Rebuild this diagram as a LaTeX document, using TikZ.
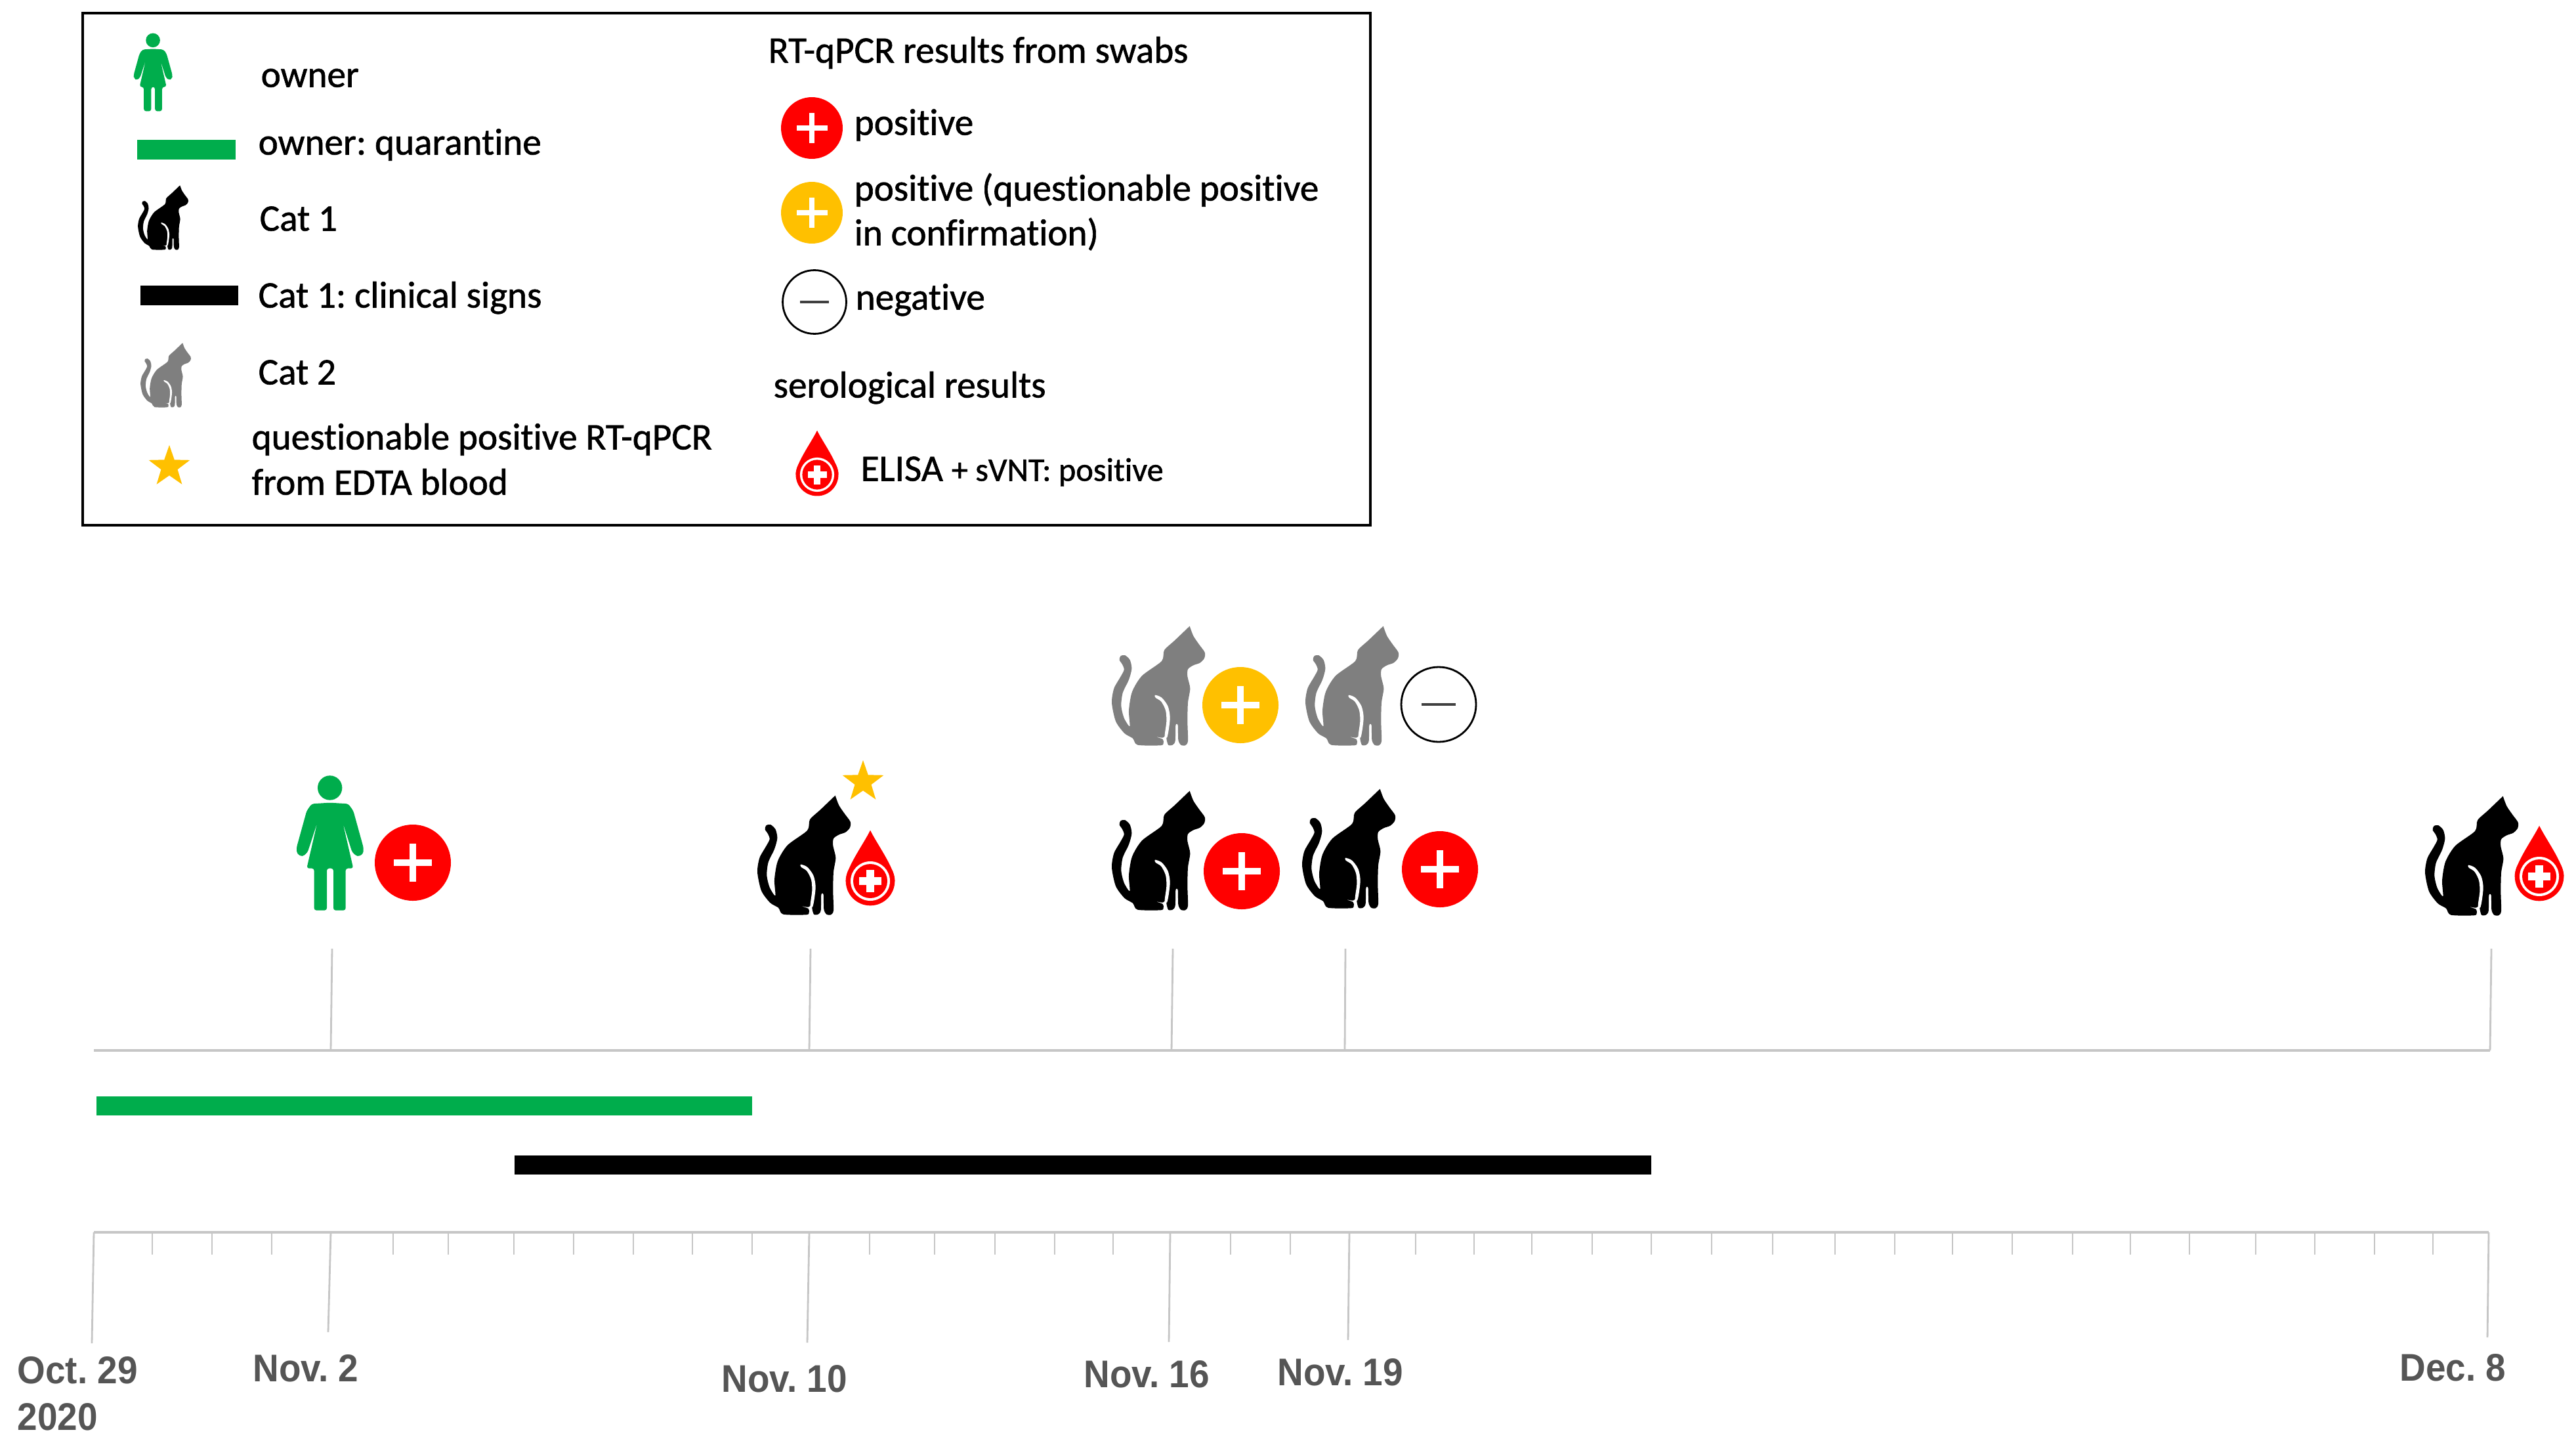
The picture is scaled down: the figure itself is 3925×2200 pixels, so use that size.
\documentclass[tikz,border=0pt]{standalone}
\usepackage{fontspec}
\setmainfont{Carlito}
\newfontfamily\legendfont{Carlito}[FakeBold=1.1,Ligatures=NoCommon]
\newfontfamily\axisfont{Liberation Sans}
\usetikzlibrary{shapes.geometric}
\definecolor{ownergreen}{HTML}{00AD4C}
\definecolor{catgray}{HTML}{7F7F7F}
\definecolor{posred}{HTML}{FF0000}
\definecolor{posamber}{HTML}{FFC000}
\definecolor{axisgray}{HTML}{C6C6C6}
\definecolor{daygray}{HTML}{555555}
\frenchspacing
\tikzset{
  catfig/.pic={
    \fill[#1] plot[smooth,tension=0.45] coordinates {(368,35) (385,80) (412,120) (437,155) (435,182) (415,203) (385,214) (360,232) (358,265) (370,320) (360,385) (358,470) (360,560) (348,580) (328,578) (316,555) (314,488) (304,488) (302,560) (290,578) (270,578) (262,550) (262,530) (245,545) (212,540) (245,552) (248,570) (235,580) (130,578) (108,548) (70,525) (30,470) (12,385) (22,320) (50,270) (68,235) (60,210) (47,190) (52,172) (72,168) (95,190) (103,230) (90,280) (62,340) (55,400) (68,455) (94,493) (90,420) (105,335) (150,262) (240,195) (252,145) (300,100) (368,35)} -- cycle;
    \fill[white] plot[smooth cycle,tension=0.5] coordinates {(210,350) (240,362) (268,400) (278,450) (272,510) (264,545) (254,535) (262,470) (258,420) (238,380) (212,362)};
  },
  personfig/.pic={
    \fill[ownergreen] (218,90) circle (56);
    \fill[ownergreen,rounded corners=1pt] (218,158) -- (135,163) -- (112,195) -- (65,365) -- (68,392) -- (92,405) -- (116,385) -- (160,250) -- (112,458) -- (146,458) -- (146,650) -- (204,650) -- (204,458) -- (234,458) -- (234,650) -- (290,650) -- (290,458) -- (325,458) -- (277,250) -- (320,385) -- (345,405) -- (370,392) -- (372,365) -- (325,195) -- (302,163) -- cycle;
  },
  posfig/.pic={
    \fill[#1] (0,0) circle (58);
    \fill[white] (-29,-5) rectangle (29,5);
    \fill[white] (-5,-29) rectangle (5,29);
  },
  negfig/.pic={
    \draw[black,line width=0.8pt,fill=white] (0,0) circle (57);
    \draw[black!75,line width=1pt] (-26,0) -- (26,0);
  },
  dropfig/.pic={
    \fill[posred] (0,-232) .. controls (-30,-170) and (-112,-60) .. (-112,0) -- (112,0) .. controls (112,-60) and (30,-170) .. (0,-232) -- cycle;
    \fill[posred] (0,0) circle (112);
    \fill[white] (0,0) circle (90);
    \fill[posred] (0,0) circle (78);
    \fill[white] (-50,-17) rectangle (50,17);
    \fill[white] (-17,-50) rectangle (17,50);
  },
  legtext/.style={anchor=base west,inner sep=0pt,xshift=-0.02cm,yshift=-0.015cm,font=\legendfont\fontsize{16.25}{19.6}\selectfont},
  daytext/.style={anchor=base west,inner sep=0pt,xshift=-0.01cm,yshift=-0.025cm,xscale=0.935,text=daygray,font=\axisfont\bfseries\fontsize{16.7}{20}\selectfont},
  starmark/.style={star,star points=5,star point ratio=2.5,minimum size=0.66cm,inner sep=0pt,fill=posamber},
  axisline/.style={axisgray,line width=1.1pt},
  stemline/.style={axisgray,line width=0.8pt},
}
\begin{document}
\begin{tikzpicture}[x=0.01cm,y=-0.01cm]
   \useasboundingbox (0,0) rectangle (3925,2200);
   \draw[line width=1.3pt] (126,20) rectangle (2088,800);
   \pic (legowner) [scale=0.193] at (191,44) {personfig};
   \fill[ownergreen] (209,213) rectangle (359,243);
   \pic (legcatA) [scale=0.18] at (208,276) {catfig=black};
   \fill[black] (214,435) rectangle (363,465);
   \pic (legcatB) [scale=0.18] at (212,516) {catfig=catgray};
   \node (legstar) [starmark] at (258,711) {};
   \node (towner) [legtext] at (399,131) {owner};
   \node (tquar) [legtext] at (395,234) {owner: quarantine};
   \node (tcatA) [legtext] at (397,350) {Cat 1};
   \node (tsigns) [legtext] at (395,467) {Cat 1: clinical signs};
   \node (tcatB) [legtext] at (395,584) {Cat 2};
   \node (tquesA) [legtext] at (385,683) {questionable positive RT-qPCR};
   \node (tquesB) [legtext] at (385,752) {from EDTA blood};
   \node (tswabs) [legtext] at (1172,94) {RT-qPCR results from swabs};
   \pic (legpos) [scale=0.81] at (1237,195) {posfig=posred};
   \pic (legque) [scale=0.81] at (1237,324) {posfig=posamber};
   \pic (legneg) [scale=0.85] at (1241,460) {negfig};
   \pic (legdrop) [scale=0.29] at (1245,723) {dropfig};
   \node (tpos) [legtext] at (1303,204) {positive};
   \node (tqueA) [legtext] at (1303,304) {positive (questionable positive};
   \node (tqueB) [legtext] at (1303,372) {in confirmation)};
   \node (tneg) [legtext] at (1305,470) {negative};
   \node (tsero) [legtext] at (1180,604) {serological results};
   \node (telisa) [legtext] at (1313,731) {ELISA {\fontsize{14.3}{16}\selectfont + sVNT: positive}};
   \pic (owner) [scale=0.3333] at (430,1170) {personfig};
   \pic (ownerpos) [scale=1] at (629,1314) {posfig=posred};
   \pic (catB) [scale=0.3333] at (1150,1200) {catfig=black};
   \node (starB) [starmark] at (1315,1191) {};
   \pic (dropB) [scale=0.3333] at (1326,1342) {dropfig};
   \pic (grayC) [scale=0.3333] at (1690,942) {catfig=catgray};
   \pic (grayCres) [scale=1] at (1890,1074) {posfig=posamber};
   \pic (grayD) [scale=0.3333] at (1985,942) {catfig=catgray};
   \pic (grayDres) [scale=1] at (2192,1073) {negfig};
   \pic (catC) [scale=0.3333] at (1690,1193) {catfig=black};
   \pic (catCres) [scale=1] at (1892,1327) {posfig=posred};
   \pic (catD) [scale=0.3333] at (1980,1190) {catfig=black};
   \pic (catDres) [scale=1] at (2194,1324) {posfig=posred};
   \pic (catE) [scale=0.3333] at (3691,1201) {catfig=black};
   \pic (dropE) [scale=0.3333] at (3869,1335) {dropfig};
   \coordinate (upL) at (143,1600);
   \coordinate (upR) at (3794,1600);
   \coordinate (lowL) at (143,1877);
   \coordinate (lowR) at (3792,1877);
   \draw[axisline] (upL) -- (upR);
   \draw[axisline] (lowL) -- (lowR);
   \fill[ownergreen] (147,1670) rectangle (1146,1699);
   \fill[black] (784,1760) rectangle (2516,1789);
   \foreach \nm/\xa/\ya/\xb in {a/506/1445/504,b/1235/1445/1233,c/1787/1445/1785,d/2050/1445/2049,e/3796/1445/3794}{
      \coordinate (stem\nm) at (\xa,\ya);
      \coordinate (foot\nm) at (\xb,1600);
      \draw[stemline] (stem\nm) -- (foot\nm);
   }
   \foreach \x in {232,323,414,599,683,783,874,965,1055,1146,1325,1424,1516,1607,1696,1875,1966,2157,2246,2334,2426,2516,2608,2701,2796,2887,2975,3066,3158,3246,3336,3437,3527,3618,3707}{
      \draw[stemline] (\x,1877) -- (\x,1911);
   }
   \foreach \nm/\xa/\xb/\yb in {p/143/140/2046,q/504/500/2029,r/1233/1230/2045,s/1783/1781/2044,t/2056/2054/2041,u/3792/3790/2037}{
      \coordinate (tick\nm) at (\xa,1877);
      \coordinate (end\nm) at (\xb,\yb);
      \draw[stemline] (tick\nm) -- (end\nm);
   }
   \node (oct) [daytext] at (27,2105) {Oct. 29};
   \node (year) [daytext] at (27,2176) {2020};
   \node (novB) [daytext] at (386,2102) {Nov. 2};
   \node (novJ) [daytext] at (1100,2118) {Nov. 10};
   \node (novP) [daytext] at (1652,2111) {Nov. 16};
   \node (novS) [daytext] at (1947,2108) {Nov. 19};
   \node (dec) [daytext] at (3657,2101) {Dec. 8};
\end{tikzpicture}
\end{document}
